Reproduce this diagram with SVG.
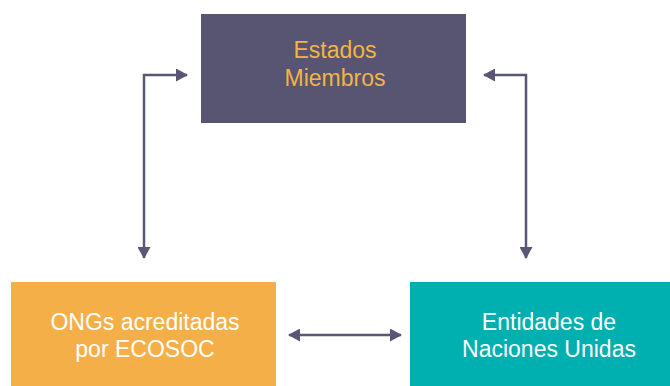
<svg xmlns="http://www.w3.org/2000/svg" width="670" height="386" viewBox="0 0 670 386">
<defs>
<style>
.lbl{font-family:"Liberation Sans",Arial,Helvetica,sans-serif;font-size:23px;text-anchor:middle}
.conn{fill:none;stroke:#595776;stroke-width:2.5}
</style>
<marker id="ah" viewBox="0 0 12 13" refX="11" refY="6.5" markerWidth="12" markerHeight="13" markerUnits="userSpaceOnUse" orient="auto-start-reverse">
<path d="M0,0 L12,6.5 L0,13 Z" fill="#595776"/>
</marker>
</defs>
<rect width="670" height="386" fill="#ffffff"/>
<g id="connectors">
<path class="conn" d="M187,75 L144,75 L144,258" marker-start="url(#ah)" marker-end="url(#ah)"/>
<path class="conn" d="M484,75 L526,75 L526,258" marker-start="url(#ah)" marker-end="url(#ah)"/>
<path class="conn" d="M289,335 L401,335" marker-start="url(#ah)" marker-end="url(#ah)"/>
</g>
<g id="estados">
<rect x="201" y="14" width="265" height="109" fill="#575572"/>
<text class="lbl" fill="#F4B442" x="335" y="58">Estados</text>
<text class="lbl" fill="#F4B442" x="335" y="86">Miembros</text>
</g>
<g id="ongs">
<rect x="11" y="282" width="265" height="104" fill="#F5AF48"/>
<text class="lbl" fill="#ffffff" x="145" y="330">ONGs acreditadas</text>
<text class="lbl" fill="#ffffff" x="145" y="357">por ECOSOC</text>
</g>
<g id="entidades">
<rect x="410" y="282" width="260" height="104" fill="#00AFB0"/>
<text class="lbl" fill="#ffffff" x="549" y="330">Entidades de</text>
<text class="lbl" fill="#ffffff" x="549" y="357">Naciones Unidas</text>
</g>
</svg>
